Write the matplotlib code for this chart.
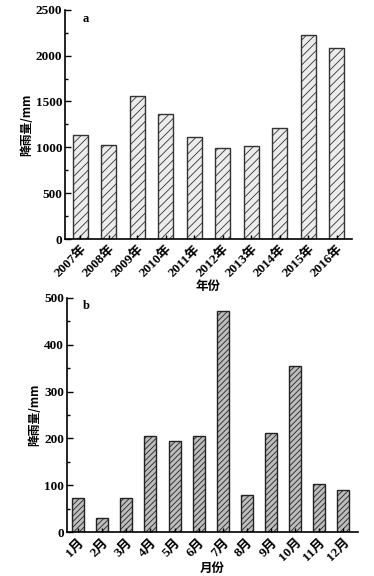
import numpy as np
import matplotlib
matplotlib.use('Agg')
import matplotlib.pyplot as plt
from matplotlib.ticker import MultipleLocator

plt.rcParams['font.family'] = ['Liberation Serif', 'Noto Sans CJK SC']
plt.rcParams['font.weight'] = 'bold'
plt.rcParams['hatch.linewidth'] = 0.6

# 年降雨量
years = ['2007年', '2008年', '2009年', '2010年', '2011年', '2012年',
         '2013年', '2014年', '2015年', '2016年']
year_rain = [1135, 1025, 1565, 1360, 1112, 997, 1019, 1215, 2225, 2088]

# 月降雨量
months = ['1月', '2月', '3月', '4月', '5月', '6月',
          '7月', '8月', '9月', '10月', '11月', '12月']
month_rain = [74, 31, 72, 206, 195, 205, 472, 80, 211, 355, 103, 90]

fig = plt.figure(figsize=(3.74, 5.76), dpi=100)
ax1 = fig.add_axes([0.174, 0.585, 0.767, 0.398])
ax2 = fig.add_axes([0.179, 0.076, 0.778, 0.407])

def style_axis(ax, major, minor, top):
    ax.spines['top'].set_visible(False)
    ax.spines['right'].set_visible(False)
    ax.spines['left'].set_linewidth(1.2)
    ax.spines['bottom'].set_linewidth(1.2)
    ax.set_ylim(0, top)
    ax.yaxis.set_major_locator(MultipleLocator(major))
    ax.yaxis.set_minor_locator(MultipleLocator(minor))
    ax.tick_params(axis='y', direction='in', length=4, width=1, labelsize=9.5, pad=2)
    ax.tick_params(axis='y', which='minor', direction='in', length=2.5, width=1)
    ax.tick_params(axis='x', direction='in', length=3, width=1, labelsize=9.5, pad=3)
    ax.set_ylabel('降雨量/mm', fontsize=8.5, family=['Noto Sans CJK SC'], fontweight='bold', labelpad=2)

x1 = np.arange(len(years))
ax1.bar(x1, year_rain, width=0.53, color='#ececec', edgecolor='#333333',
        hatch='////', linewidth=1.0)
style_axis(ax1, 500, 250, 2500)
ax1.set_xlim(-0.53, 9.53)
ax1.set_xticks(x1)
ax1.set_xticklabels(years, rotation=45, ha='right', rotation_mode='anchor')
ax1.set_xlabel('年份', fontsize=9, family=['Noto Sans CJK SC'], fontweight='bold', labelpad=0)
ax1.text(0.06, 0.985, 'a', transform=ax1.transAxes, fontsize=9, fontweight='bold', va='top')

x2 = np.arange(len(months))
ax2.bar(x2, month_rain, width=0.5, color='#bdbdbd', edgecolor='#222222',
        hatch='//////', linewidth=1.0)
style_axis(ax2, 100, 50, 500)
ax2.set_xlim(-0.46, 11.6)
ax2.set_xticks(x2)
ax2.set_xticklabels(months, rotation=45, ha='right', rotation_mode='anchor')
ax2.set_xlabel('月份', fontsize=9, family=['Noto Sans CJK SC'], fontweight='bold', labelpad=-1)
ax2.text(0.055, 0.99, 'b', transform=ax2.transAxes, fontsize=9, fontweight='bold', va='top')

plt.savefig('out.png', dpi=100)
